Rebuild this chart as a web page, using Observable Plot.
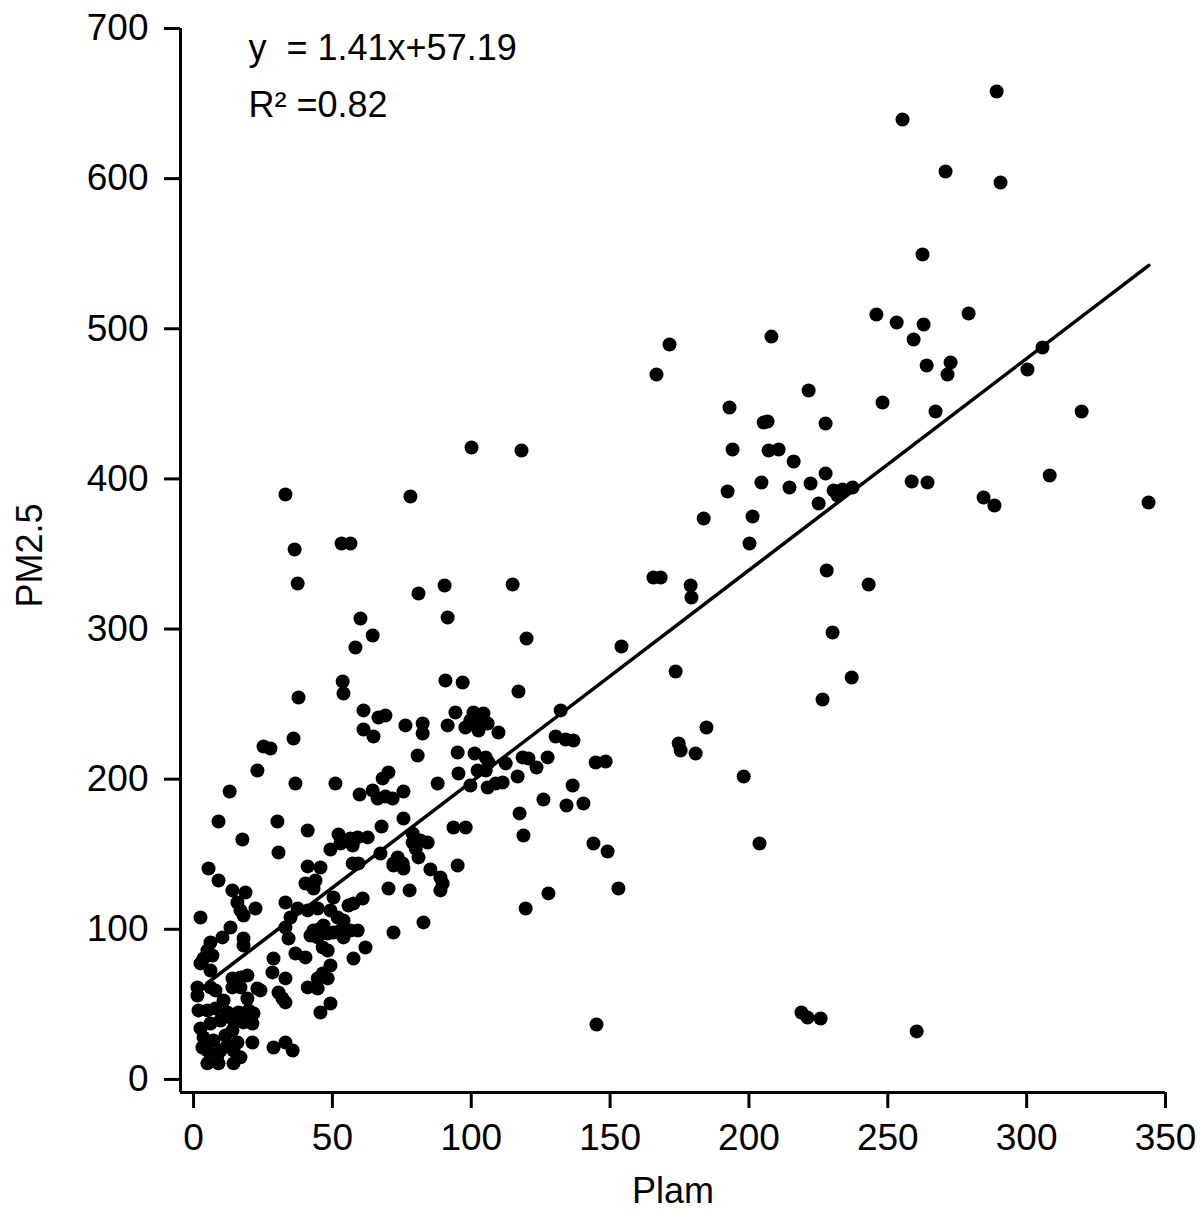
<!DOCTYPE html>
<html>
<head>
<meta charset="utf-8">
<script src="https://cdn.jsdelivr.net/npm/d3@7"></script>
<script src="https://cdn.jsdelivr.net/npm/@observablehq/plot@0.6"></script>
<style>
  html, body { margin: 0; padding: 0; background: #fff; }
  #chart { width: 1200px; height: 1215px; }
</style>
</head>
<body>
<div id="chart"></div>
<script>
// Plam (x) values
const plam = [
  5.4, 9.0, 14.0, 18.7, 15.8, 16.9, 18.0, 22.3, 2.5, 13.3, 18.0, 18.0, 10.4, 6.1, 5.0, 3.6, 2.5, 6.1, 1.4, 1.4,
  6.1, 7.9, 14.0, 16.9, 19.4, 14.0, 16.9, 23.0, 1.8, 5.0, 7.9, 12.2, 16.2, 19.8, 21.6, 2.5, 6.1, 9.7, 14.4, 18.0,
  21.2, 3.6, 7.2, 11.5, 15.8, 14.0, 5.0, 9.7, 14.4, 16.9, 5.0, 9.0, 14.4, 21.2, 28.8, 33.1, 35.7, 10.8, 19.4, 6.8,
  3.2, 12.2, 8.6, 24.1,
  23.0, 25.2, 27.7, 13.0, 36.7, 51.1, 9.0, 30.2, 41.1, 17.6, 30.6, 49.3, 52.2, 41.1, 45.7, 40.3, 43.9, 43.2, 33.1, 34.9, 36.0,
  50.4, 60.9, 55.8, 37.5, 41.1, 44.7, 49.3, 51.9, 54.0, 33.1, 43.2, 45.7, 48.3, 50.4, 52.9, 56.5, 59.1, 42.1, 44.7, 34.2,
  46.5, 54.0, 72.0, 61.9, 57.6, 36.7, 40.3, 28.8, 49.3, 46.5, 44.7, 48.3, 28.4, 33.1, 41.1, 44.7, 30.6, 32.0, 33.1, 45.7,
  49.3, 48.3, 57.6, 46.8, 57.3, 67.3, 72.0, 70.2, 77.8, 82.8, 89.7, 88.9,
  61.2, 66.6, 69.1, 61.2, 64.8, 76.3, 82.5, 82.5, 91.5, 94.3, 80.7, 95.1, 101.2, 70.2, 68.1, 95.4, 87.9, 99.7, 59.8, 64.5,
  66.3, 69.1, 71.7, 75.6, 75.6, 67.7, 52.9, 56.5, 59.1, 62.7, 57.3, 93.6, 98.0, 78.9, 78.9, 81.7, 84.3, 80.0, 81.0, 73.5,
  72.0, 75.3, 75.6, 59.4, 85.3, 88.9, 95.1,
  37.5, 81.0, 90.4, 60.1, 91.5, 64.5, 58.3, 53.7, 54.0, 37.8, 90.7, 96.9, 36.4, 33.1, 53.3, 56.5, 78.1, 100.1, 118.1, 114.9,
  119.9, 117.0,
  132.2, 100.8, 104.4, 99.7, 102.6, 105.9, 97.9, 102.6, 109.8, 130.4, 134.0, 136.8, 105.2, 106.2, 118.5, 120.6, 127.5, 144.8, 148.4, 112.4,
  123.5, 102.3, 105.2, 116.7, 105.9, 108.8, 111.3, 136.5, 126.0, 134.3, 140.4, 117.4, 118.8, 144.0, 149.1, 127.8, 119.6, 153.0, 145.1, 154.1,
  165.6, 168.2,
  289.2, 255.3, 270.8, 290.6, 262.5, 245.9, 253.2, 262.9, 279.1, 208.1, 171.4, 166.7, 259.3, 264.0, 272.6, 271.5, 305.7, 300.3, 267.2, 248.1,
  319.8, 193.0, 205.3, 206.7, 227.6, 221.5, 194.1, 207.1, 210.7, 216.1, 204.5, 214.6, 222.2, 192.3, 227.6, 225.1, 230.5, 233.7, 237.3, 231.9,
  258.6, 264.3, 284.5, 288.4, 308.3, 343.9, 201.3, 200.2, 183.7, 179.0, 179.3, 228.0, 243.1, 230.1, 237.0, 226.5, 173.6, 174.7, 175.4, 180.8,
  184.7, 198.1, 203.8, 218.9, 221.1, 225.8, 260.4
];

// PM2.5 (y) values, same order as plam
const pm25 = [
  140.5, 132.5, 125.9, 124.5, 117.9, 112.6, 109.2, 113.9, 107.9, 101.2, 93.9, 89.2, 94.6, 91.2, 85.9, 80.6, 77.3, 72.6, 61.3, 55.9,
  61.3, 59.3, 67.3, 67.9, 69.3, 61.3, 61.3, 60.6, 46.0, 46.0, 47.3, 44.6, 44.6, 46.0, 44.0, 34.0, 37.3, 39.3, 39.3, 38.0,
  37.3, 28.0, 26.0, 29.3, 24.6, 32.6, 19.3, 19.3, 19.3, 14.7, 10.7, 10.7, 10.7, 24.6, 21.3, 24.6, 19.3, 52.6, 53.9, 82.6,
  21.3, 22.6, 16.0, 59.3,
  205.8, 221.8, 220.4, 191.8, 197.1, 197.1, 171.8, 171.8, 165.8, 159.8, 151.2, 153.2, 163.2, 141.9, 141.2, 130.5, 132.5, 127.2, 117.9, 107.9, 227.1,
  121.2, 120.5, 115.9, 113.9, 112.6, 113.9, 112.6, 107.9, 105.9, 101.2, 99.2, 100.6, 97.2, 97.9, 99.2, 99.2, 99.2, 95.9, 94.6, 93.9,
  87.9, 94.6, 97.9, 87.9, 80.6, 83.9, 81.3, 80.6, 75.9, 70.6, 67.3, 67.3, 71.3, 67.3, 61.3, 60.6, 57.9, 53.9, 51.3, 44.6,
  50.6, 85.9, 117.2, 102.6, 143.9, 150.5, 143.9, 127.2, 125.9, 104.6, 130.5, 125.9,
  245.8, 241.1, 242.4, 233.1, 228.4, 235.8, 237.1, 230.4, 235.8, 244.4, 215.8, 217.8, 217.1, 204.5, 200.5, 203.8, 197.1, 195.8, 189.8, 192.5,
  187.1, 188.5, 187.1, 191.8, 173.8, 168.5, 157.2, 160.5, 161.2, 161.2, 155.8, 167.8, 167.8, 163.8, 157.8, 159.2, 157.8, 153.8, 147.9, 147.9,
  142.5, 143.9, 140.5, 143.9, 139.9, 134.5, 142.5,
  330.3, 323.7, 329.0, 307.0, 307.7, 295.7, 287.7, 265.1, 257.1, 254.4, 265.7, 264.4, 353.0, 389.6, 357.0, 357.0, 388.3, 420.9, 418.9, 329.7,
  293.7, 258.4,
  245.8, 244.4, 243.8, 239.1, 237.8, 237.1, 234.4, 232.4, 231.1, 228.4, 226.4, 225.8, 214.5, 211.1, 214.5, 213.8, 214.5, 211.1, 211.8, 210.5,
  207.8, 205.8, 205.8, 201.8, 194.5, 197.1, 197.8, 195.8, 186.5, 182.5, 183.8, 177.2, 162.5, 157.2, 151.8, 123.9, 113.9, 127.2, 36.6, 288.4,
  334.3, 334.3,
  658.0, 639.4, 604.8, 597.4, 549.5, 509.5, 504.2, 502.8, 510.2, 494.8, 489.5, 469.5, 492.9, 475.5, 477.5, 469.5, 487.5, 472.9, 444.9, 450.9,
  444.9, 447.6, 437.6, 438.2, 436.9, 458.9, 419.6, 418.9, 419.6, 411.6, 397.6, 394.3, 396.9, 391.6, 403.6, 383.6, 392.3, 392.9, 394.3, 388.9,
  398.3, 397.6, 387.6, 382.3, 402.3, 384.3, 375.0, 357.0, 373.6, 329.0, 321.0, 339.0, 329.7, 297.7, 267.7, 253.1, 271.7, 223.8, 219.1, 217.1,
  234.4, 201.8, 157.2, 44.6, 41.3, 40.6, 32.0
];

// Fitted regression line (from the chart's equation) and its x extent
const slope = 1.41;
const intercept = 57.19;
const fitRange = [5, 344];

// Tick labels
const xTicks = [0, 50, 100, 150, 200, 250, 300, 350];
const yTicks = [0, 100, 200, 300, 400, 500, 600, 700];

const equationText = "y  = 1.41x+57.19";
const r2Text = "R\u00B2 =0.82";
const xTitle = "Plam";
const yTitle = "PM2.5";

const points = plam.map((x, i) => ({x, y: pm25[i]}));
const fit = fitRange.map(x => ({x, y: slope * x + intercept}));

const xMin = -4.7, yMin = -8.7;

const chart = Plot.plot({
  width: 1200,
  height: 1215,
  marginLeft: 180,
  marginRight: 35,
  marginTop: 28,
  marginBottom: 123,
  style: {
    fontFamily: "'Liberation Sans', Arial, Helvetica, sans-serif",
    fontSize: "37px",
    color: "#000",
    background: "#fff",
    overflow: "visible"
  },
  x: {domain: [xMin, 350]},
  y: {domain: [yMin, 700]},
  marks: [
    Plot.axisX({ticks: xTicks, tickSize: 16, tickPadding: 15, tickFormat: d => String(d), label: null, strokeWidth: 3, fontSize: 37}),
    Plot.axisY({ticks: yTicks, tickSize: 16, tickPadding: 16, tickFormat: d => String(d), label: null, strokeWidth: 3, fontSize: 37}),
    Plot.ruleX([xMin], {y1: yMin, y2: 700, strokeWidth: 3, stroke: "#000"}),
    Plot.ruleY([yMin], {x1: xMin, x2: 350, strokeWidth: 3, stroke: "#000"}),
    Plot.dot(points, {x: "x", y: "y", r: 7, fill: "#000", stroke: "none"}),
    Plot.line(fit, {x: "x", y: "y", stroke: "#000", strokeWidth: 3.5}),
    Plot.text([equationText], {frameAnchor: "top-left", dx: 68, dy: 6, fontSize: 36, fill: "#000"}),
    Plot.text([r2Text], {frameAnchor: "top-left", dx: 68, dy: 63, fontSize: 36, fill: "#000"}),
    Plot.text([xTitle], {frameAnchor: "bottom", dx: 0, dy: 99, lineAnchor: "middle", fontSize: 36, fill: "#000"}),
    Plot.text([yTitle], {frameAnchor: "left", dx: -150, dy: -5, rotate: -90, textAnchor: "middle", lineAnchor: "middle", fontSize: 36, fill: "#000"})
  ]
});

document.getElementById("chart").appendChild(chart);
</script>
</body>
</html>
